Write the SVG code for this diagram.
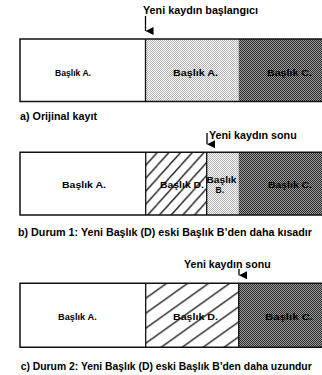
<svg xmlns="http://www.w3.org/2000/svg" width="322" height="375" viewBox="0 0 322 375">
<style>
text{font-family:"Liberation Sans",Arial,sans-serif;font-weight:bold;fill:#000}
.lbl{font-size:9.5px;text-anchor:start}
.ttl{font-size:10.5px}
.seg{stroke:none}
.edge{stroke:#111;stroke-width:1.5;fill:none}
.div{stroke:#111;stroke-width:1.3}
.arr{stroke:#000;stroke-width:1.3;fill:none}
</style>
<defs>
<pattern id="light" patternUnits="userSpaceOnUse" x="0" y="0" width="2" height="2">
<rect width="2" height="2" fill="#fff"/>
<rect width="1" height="1" fill="#b0b0b0"/>
<rect x="1" y="1" width="1" height="1" fill="#b0b0b0"/>
</pattern>
<pattern id="dark" patternUnits="userSpaceOnUse" x="0" y="0" width="2" height="2">
<rect width="2" height="2" fill="#9c9c9c"/>
<rect width="1" height="1" fill="#2a2a2a"/>
<rect x="1" y="1" width="1" height="1" fill="#2a2a2a"/>
</pattern>
<pattern id="hatchB" patternUnits="userSpaceOnUse" x="145.7" y="152.3" width="11.7" height="13">
<rect width="11.7" height="13" fill="#fff"/>
<path d="M-1,1 L1,-1 M0,13 L11.7,0 M10.7,14 L12.7,12" stroke="#000" stroke-width="1.2"/>
</pattern>
<pattern id="hatchC" patternUnits="userSpaceOnUse" x="145.7" y="283.3" width="21" height="15">
<rect width="21" height="15" fill="#fff"/>
<path d="M-1,0.7 L1,-0.7 M0,15 L21,0 M20,15.7 L22,14.3" stroke="#000" stroke-width="1.2"/>
</pattern>
<marker id="ah" viewBox="0 0 8 8" refX="4" refY="8" markerWidth="8" markerHeight="8" markerUnits="userSpaceOnUse" orient="auto-start-reverse">
<path d="M0,0 L8,0 L4,8 Z" fill="#000"/>
</marker>
</defs>

<!-- Panel a -->
<g id="a-seg1">
<rect class="seg" x="20" y="39" width="125.5" height="62.5" fill="#fff"/>
<text class="lbl" x="55" y="76" textLength="36" lengthAdjust="spacingAndGlyphs">Başlık A.</text>
</g>
<g id="a-seg2">
<rect class="seg" x="145.5" y="39" width="93.2" height="62.5" fill="url(#light)"/>
<text class="lbl" x="173" y="76" textLength="45" lengthAdjust="spacingAndGlyphs">Başlık A.</text>
</g>
<g id="a-seg3">
<rect class="seg" x="238.7" y="39" width="84" height="62.5" fill="url(#dark)"/>
<text class="lbl" x="267" y="76" textLength="45" lengthAdjust="spacingAndGlyphs">Başlık C.</text>
</g>
<path class="edge" d="M323,39 H20 V101.5 H323"/>
<line class="div" x1="145.5" y1="39" x2="145.5" y2="101.5"/>

<!-- Panel b -->
<g id="b-seg1">
<rect class="seg" x="20" y="152.3" width="125.7" height="62.7" fill="#fff"/>
<text class="lbl" x="62" y="187.5" textLength="44" lengthAdjust="spacingAndGlyphs">Başlık A.</text>
</g>
<g id="b-seg2">
<rect class="seg" x="145.7" y="152.3" width="61" height="62.7" fill="url(#hatchB)"/>
<text class="lbl" x="160" y="187.5" textLength="44" lengthAdjust="spacingAndGlyphs">Başlık D.</text>
</g>
<g id="b-seg3">
<rect class="seg" x="206.7" y="152.3" width="32" height="62.7" fill="url(#light)"/>
<text class="lbl" x="206.5" y="183.3" textLength="30" lengthAdjust="spacingAndGlyphs">Başlık</text>
<text class="lbl" x="215.5" y="193.3" textLength="8.5" lengthAdjust="spacingAndGlyphs">B.</text>
</g>
<g id="b-seg4">
<rect class="seg" x="238.7" y="152.3" width="84" height="62.7" fill="url(#dark)"/>
<text class="lbl" x="268" y="187.5" textLength="44" lengthAdjust="spacingAndGlyphs">Başlık C.</text>
</g>
<path class="edge" d="M323,152.3 H20 V215 H323"/>
<line class="div" x1="145.7" y1="152.3" x2="145.7" y2="215"/>
<line class="div" x1="206.7" y1="152.3" x2="206.7" y2="215"/>

<!-- Panel c -->
<g id="c-seg1">
<rect class="seg" x="20" y="283.3" width="125.7" height="64" fill="#fff"/>
<text class="lbl" x="58" y="319.5" textLength="38.7" lengthAdjust="spacingAndGlyphs">Başlık A.</text>
</g>
<g id="c-seg2">
<rect class="seg" x="145.7" y="283.3" width="93" height="64" fill="url(#hatchC)"/>
<text class="lbl" x="173" y="319.5" textLength="45" lengthAdjust="spacingAndGlyphs">Başlık D.</text>
</g>
<g id="c-seg3">
<rect class="seg" x="238.7" y="283.3" width="84" height="64" fill="url(#dark)"/>
<text class="lbl" x="265" y="319.5" textLength="48" lengthAdjust="spacingAndGlyphs">Başlık C.</text>
</g>
<path class="edge" d="M323,283.3 H20 V347.3 H323"/>
<line class="div" x1="145.7" y1="283.3" x2="145.7" y2="347.3"/>
<line class="div" x1="238.7" y1="283.3" x2="238.7" y2="347.3"/>

<!-- Connectors -->
<g id="connectors">
<line class="arr" x1="145.5" y1="16" x2="145.5" y2="31" marker-end="url(#ah)"/>
<line class="arr" x1="207" y1="133" x2="207" y2="144.3" marker-end="url(#ah)"/>
<line class="arr" x1="239" y1="269" x2="239" y2="275.3" marker-end="url(#ah)"/>
</g>

<!-- Titles and captions -->
<text class="ttl" x="143" y="13.5" textLength="115" lengthAdjust="spacingAndGlyphs">Yeni kaydın başlangıcı</text>
<text class="ttl" x="20" y="120" textLength="77" lengthAdjust="spacingAndGlyphs">a) Orijinal kayıt</text>
<text class="ttl" x="209" y="139" textLength="87.7" lengthAdjust="spacingAndGlyphs">Yeni kaydın sonu</text>
<text class="ttl" x="18" y="236" textLength="294" lengthAdjust="spacingAndGlyphs">b) Durum 1: Yeni Başlık (D) eski Başlık B’den daha kısadır</text>
<text class="ttl" x="184" y="268" textLength="86.7" lengthAdjust="spacingAndGlyphs">Yeni kaydın sonu</text>
<text class="ttl" x="20.7" y="369.5" textLength="291" lengthAdjust="spacingAndGlyphs">c) Durum 2: Yeni Başlık (D) eski Başlık B’den daha uzundur</text>
</svg>
